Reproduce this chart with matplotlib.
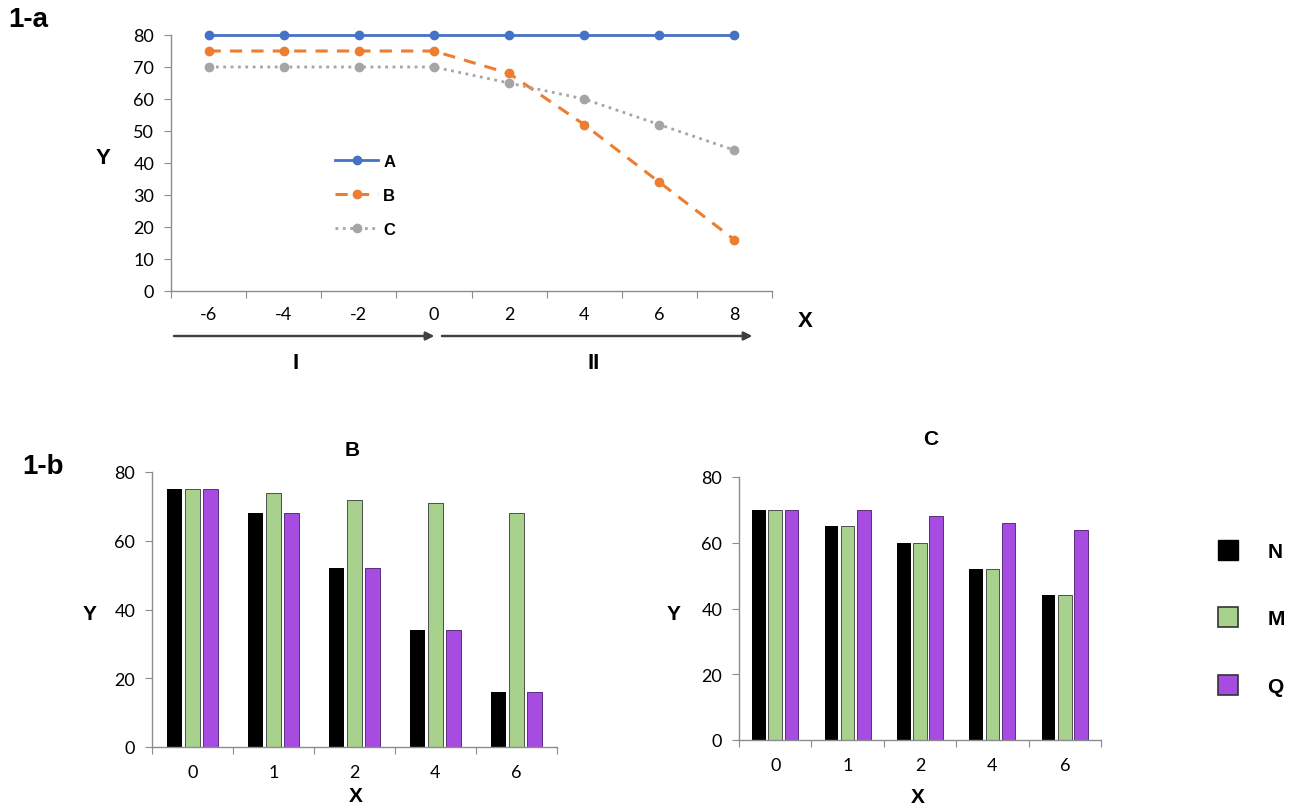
import numpy as np
import matplotlib.pyplot as plt
from matplotlib.lines import Line2D

# données
x_a = ['-6', '-4', '-2', '0', '2', '4', '6', '8']
A = [80, 80, 80, 80, 80, 80, 80, 80]
B = [75, 75, 75, 75, 68, 52, 34, 16]
C = [70, 70, 70, 70, 65, 60, 52, 44]

x_b = ['0', '1', '2', '4', '6']
B_N = [75, 68, 52, 34, 16]
B_M = [75, 74, 72, 71, 68]
B_Q = [75, 68, 52, 34, 16]
C_N = [70, 65, 60, 52, 44]
C_M = [70, 65, 60, 52, 44]
C_Q = [70, 70, 68, 66, 64]

W, H = 1289, 812
tick_font = 'Lato'
lab_font = 'Liberation Sans'
axis_col = '#8c8c8c'


def fx(px):
    return px / W


def fy(py):
    return 1 - py / H


def rect(l, r, top, bot):
    return [fx(l), fy(bot), fx(r) - fx(l), fy(top) - fy(bot)]


def style_axis(ax, ymax, ystep, ncat, labels, xpad):
    for s in ['top', 'right']:
        ax.spines[s].set_visible(False)
    for s in ['left', 'bottom']:
        ax.spines[s].set_color(axis_col)
        ax.spines[s].set_linewidth(1.0)
    ax.set_ylim(0, ymax)
    ax.set_yticks(np.arange(0, ymax + 1, ystep))
    ax.set_xlim(-0.5, ncat - 0.5)
    # ticks aux limites des catégories, étiquettes au centre
    ax.set_xticks(np.arange(-0.5, ncat, 1.0))
    ax.set_xticklabels([])
    ax.set_xticks(np.arange(ncat), minor=True)
    ax.set_xticklabels(labels, minor=True)
    ax.tick_params(axis='x', which='major', length=5, color=axis_col, direction='out')
    ax.tick_params(axis='x', which='minor', length=0, pad=xpad, labelsize=13)
    ax.tick_params(axis='y', length=5, color=axis_col, pad=7, labelsize=13)
    for t in ax.get_yticklabels() + ax.get_xticklabels(minor=True):
        t.set_fontfamily(tick_font)


def label(px, py, s, size=16):
    fig.text(fx(px), fy(py), s, fontsize=size, fontweight='bold', family=lab_font,
             ha='center', va='center')


fig = plt.figure(figsize=(W / 100, H / 100), dpi=100)

# 1-a : courbes
ax1 = fig.add_axes(rect(171, 772, 36, 292))
xs = np.arange(len(x_a))
ax1.plot(xs, A, '-o', color='#4472c4', lw=2, ms=6, label='A', clip_on=False)
ax1.plot(xs, B, '--o', color='#ed7d31', lw=2.2, ms=6, dashes=(4, 3), label='B', clip_on=False)
ax1.plot(xs, C, ':o', color='#a5a5a5', lw=2, ms=6, label='C', clip_on=False)
style_axis(ax1, 80, 10, len(x_a), x_a, 11)
ax1.legend(loc='upper left', bbox_to_anchor=((320 - 171) / 601, 0.595),
           frameon=False, handlelength=2.6, handletextpad=0.3, labelspacing=1.15,
           prop={'family': lab_font, 'weight': 'bold', 'size': 12})

fig.text(fx(8), fy(20), '1-a', fontsize=20, fontweight='bold', family=lab_font, va='center')
label(103, 158, 'Y')
label(805, 322, 'X')

# flèches I et II
arr = dict(arrowstyle='-|>', color='#404040', lw=1.6, mutation_scale=12, shrinkA=0, shrinkB=0)
fig.add_artist(plt.annotate('', xy=(fx(434), fy(337)), xytext=(fx(174), fy(337)),
                            xycoords='figure fraction', arrowprops=arr))
fig.add_artist(plt.annotate('', xy=(fx(752), fy(337)), xytext=(fx(442), fy(337)),
                            xycoords='figure fraction', arrowprops=arr))
label(296, 364, 'I')
label(594, 364, 'II')

# 1-b : barres
col_N, col_M, col_Q = '#000000', '#a9d18e', '#a64ce0'
w, d = 0.19, 0.224


def bars(ax, n, m, q):
    xb = np.arange(len(x_b))
    ax.bar(xb - d, n, w, color=col_N)
    ax.bar(xb, m, w, color=col_M, edgecolor='#4d4d4d', linewidth=0.7)
    ax.bar(xb + d, q, w, color=col_Q, edgecolor='#5a2d80', linewidth=0.7)
    style_axis(ax, 80, 20, len(x_b), x_b, 12)


ax2 = fig.add_axes(rect(152, 557, 473, 748))
bars(ax2, B_N, B_M, B_Q)
ax3 = fig.add_axes(rect(739, 1101, 478, 741))
bars(ax3, C_N, C_M, C_Q)

fig.text(fx(22), fy(467), '1-b', fontsize=20, fontweight='bold', family=lab_font, va='center')
label(352, 450, 'B', 15)
label(90, 614, 'Y', 15)
label(356, 797, 'X', 15)
label(931, 440, 'C', 15)
label(674, 614, 'Y', 15)
label(918, 798, 'X', 15)

handles = [Line2D([], [], ls='', marker='s', ms=14, mfc=col_N, mec=col_N),
           Line2D([], [], ls='', marker='s', ms=14, mfc=col_M, mec='#333333', mew=1.2),
           Line2D([], [], ls='', marker='s', ms=14, mfc=col_Q, mec='#333333', mew=1.2)]
fig.legend(handles, ['N', 'M', 'Q'], loc='center left', bbox_to_anchor=(fx(1188), fy(620)),
           frameon=False, labelspacing=2.32, handletextpad=0.9,
           prop={'family': lab_font, 'weight': 'bold', 'size': 15})

plt.savefig('out.png', dpi=100)
